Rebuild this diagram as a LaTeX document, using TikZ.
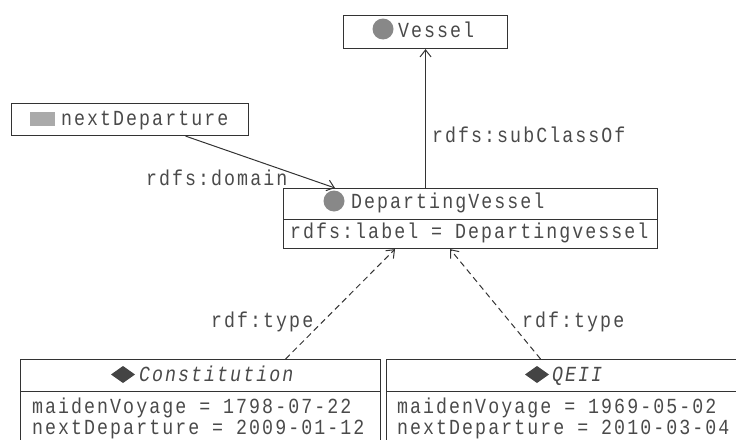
\documentclass[tikz,border=0pt]{standalone}
\usepackage{fontspec}
\setmonofont{Liberation Mono}[FakeStretch=0.85, LetterSpace=9.5]
\usetikzlibrary{arrows.meta}
\definecolor{ink}{HTML}{333333}
\definecolor{txt}{HTML}{4A4A4A}
\definecolor{circ}{HTML}{888888}
\definecolor{sqc}{HTML}{AAAAAA}
\definecolor{dia}{HTML}{444444}
\newcommand{\dfont}{\ttfamily\fontsize{21.5}{24}\selectfont}
\tikzset{
  box/.style={draw=ink, line width=1.1pt, rectangle, inner sep=0pt, anchor=north west},
  lbl/.style={font=\dfont, text=txt, inner sep=0pt, anchor=base west},
  rel/.style={draw=ink, line width=1pt, -{Straight Barb[length=7pt,width=11pt]}},
  inst/.style={rel, dash pattern=on 6pt off 4pt},
  dot/.style={circle, fill=circ, inner sep=0pt, minimum size=21pt},
}
\begin{document}
\begin{tikzpicture}[x=1pt,y=-1pt]
\clip (0,0) rectangle (736,439);
% Vessel
\node[box, minimum width=164pt, minimum height=33pt] (vessel) at (343,15) {};
\node[dot] (vdot) at (383,29) {};
\node[lbl] (vtext) at (398,37) {Vessel};
% nextDeparture
\node[box, minimum width=237pt, minimum height=32pt] (nextdep) at (11,103) {};
\node[fill=sqc, inner sep=0pt, minimum width=25pt, minimum height=14pt] (ndsq) at (42.5,119) {};
\node[lbl] (ndtext) at (61,125) {nextDeparture};
% DepartingVessel
\node[box, minimum width=374pt, minimum height=31pt] (dvtitle) at (283,188) {};
\node[box, minimum width=374pt, minimum height=29pt] (dvattr) at (283,219) {};
\node[dot] (dvdot) at (334,201) {};
\node[lbl] (dvtext) at (351,208) {DepartingVessel};
\node[lbl] (dvlabel) at (290,238) {rdfs:label = Departingvessel};
% Constitution
\node[box, minimum width=360pt, minimum height=32pt] (ctitle) at (20,359) {};
\node[box, minimum width=360pt, minimum height=60pt] (cattr) at (20,391) {};
\fill[dia] (111,374.5) -- (123,366) -- (135,374.5) -- (123,383) -- cycle;
\node[lbl] (ctext) at (139,381) {\itshape Constitution};
\node[lbl] (cl1) at (32,413) {maidenVoyage = 1798-07-22};
\node[lbl] (cl2) at (32,434) {nextDeparture = 2009-01-12};
% QEII
\node[box, minimum width=360pt, minimum height=32pt] (qtitle) at (386,359) {};
\node[box, minimum width=360pt, minimum height=60pt] (qattr) at (386,391) {};
\fill[dia] (525,374.5) -- (537,366) -- (549,374.5) -- (537,383) -- cycle;
\node[lbl] (qtext) at (552,381) {\itshape QEII};
\node[lbl] (ql1) at (397,413) {maidenVoyage = 1969-05-02};
\node[lbl] (ql2) at (397,434) {nextDeparture = 2010-03-04};
% connectors
\draw[rel] (vessel.south |- dvtitle.north) -- (vessel.south);
\node[lbl] (subcl) at (432,142) {rdfs:subClassOf};
\draw[rel] ([xshift=55.5pt]nextdep.south) -- ([xshift=52pt]dvtitle.north west);
\node[lbl] (dom) at (146,185) {rdfs:domain};
\draw[inst] ([xshift=85pt]ctitle.north) -- ([xshift=112pt]dvattr.south west);
\node[lbl] (t1) at (211,327) {rdf:type};
\draw[inst] ([xshift=-26pt]qtitle.north) -- ([xshift=167pt]dvattr.south west);
\node[lbl] (t2) at (522,327) {rdf:type};
\end{tikzpicture}
\end{document}
